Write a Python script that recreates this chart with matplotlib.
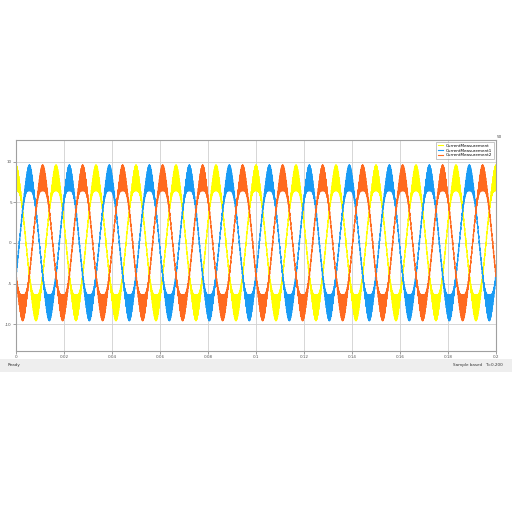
import numpy as np
import matplotlib
matplotlib.use("Agg")
import matplotlib.pyplot as plt

# ---- data ----
series_names = ["CurrentMeasurement", "CurrentMeasurement1", "CurrentMeasurement2"]
series_colors = ["#FFFF00", "#1A9CF5", "#FF6A1F"]
frequency_hz = 60.0
amplitude = [8.0, 8.0, 8.0]
phase_deg = [0.0, -120.0, 120.0]
ripple_base = [0.3, 0.3, 0.3]
ripple_peak = [1.3, 1.3, 1.3]
switching_hz = 5000.0
t_end = 0.2
xticks = [0, 0.02, 0.04, 0.06, 0.08, 0.1, 0.12, 0.14, 0.16, 0.18, 0.2]
xtick_labels = ["0", "0.02", "0.04", "0.06", "0.08", "0.1", "0.12", "0.14", "0.16", "0.18", "0.2"]
yticks = [-10, -5, 0, 5, 10]
ytick_labels = ["-10", "-5", "0", "5", "10"]

t = np.linspace(0, t_end, 120001)
fig = plt.figure(figsize=(5.12, 5.12), dpi=100)
fig.patch.set_facecolor("white")
ax = fig.add_axes([16/512, 1-351/512, 480/512, 211/512])

for name, col, A, ph, r0, r1 in zip(series_names, series_colors, amplitude, phase_deg, ripple_base, ripple_peak):
    theta = 2*np.pi*frequency_hz*t + np.deg2rad(ph)
    base = A*np.cos(theta)
    carrier = 2*np.abs(((switching_hz*t + (ph/360.0)) % 1.0) - 0.5)*2 - 1
    y = base + np.sign(np.cos(theta))*(r0 + r1*np.abs(np.cos(theta))**6)*carrier
    ax.plot(t, y, color=col, lw=0.8, label=name)

ax.set_xlim(0, t_end)
ax.set_ylim(-13.3, 12.65)
ax.set_xticks(xticks)
ax.set_xticklabels(xtick_labels)
ax.set_yticks(yticks)
ax.set_yticklabels(ytick_labels)
ax.tick_params(labelsize=3, colors="#555555", length=2, width=0.4, pad=1)
ax.grid(True, color="#d0d0d0", lw=0.6)
ax.set_axisbelow(True)
for s in ax.spines.values():
    s.set_color("#a0a0a0")
    s.set_linewidth(0.8)

leg = ax.legend(loc="upper right", fontsize=3, frameon=True, handlelength=1.2,
                borderpad=0.4, labelspacing=0.2, fancybox=False, edgecolor="#999999")
leg.get_frame().set_linewidth(0.5)

fig.text(497/512, 1-137/512, "50", fontsize=3, color="#444444", ha="left", va="center")

# status bar
fig.patches.append(matplotlib.patches.Rectangle((0, 1-372/512), 1, 13/512,
                   transform=fig.transFigure, facecolor="#eeeeee", edgecolor="none"))
fig.text(8/512, 1-365/512, "Ready", fontsize=3, color="#333333", va="center")
fig.text(482/512, 1-365/512, "Sample based", fontsize=3, color="#333333", va="center", ha="right")
fig.text(485/512, 1-365/512, "T=0.200", fontsize=3, color="#333333", va="center", ha="left")

fig.savefig("out.png", dpi=100, facecolor="white")
